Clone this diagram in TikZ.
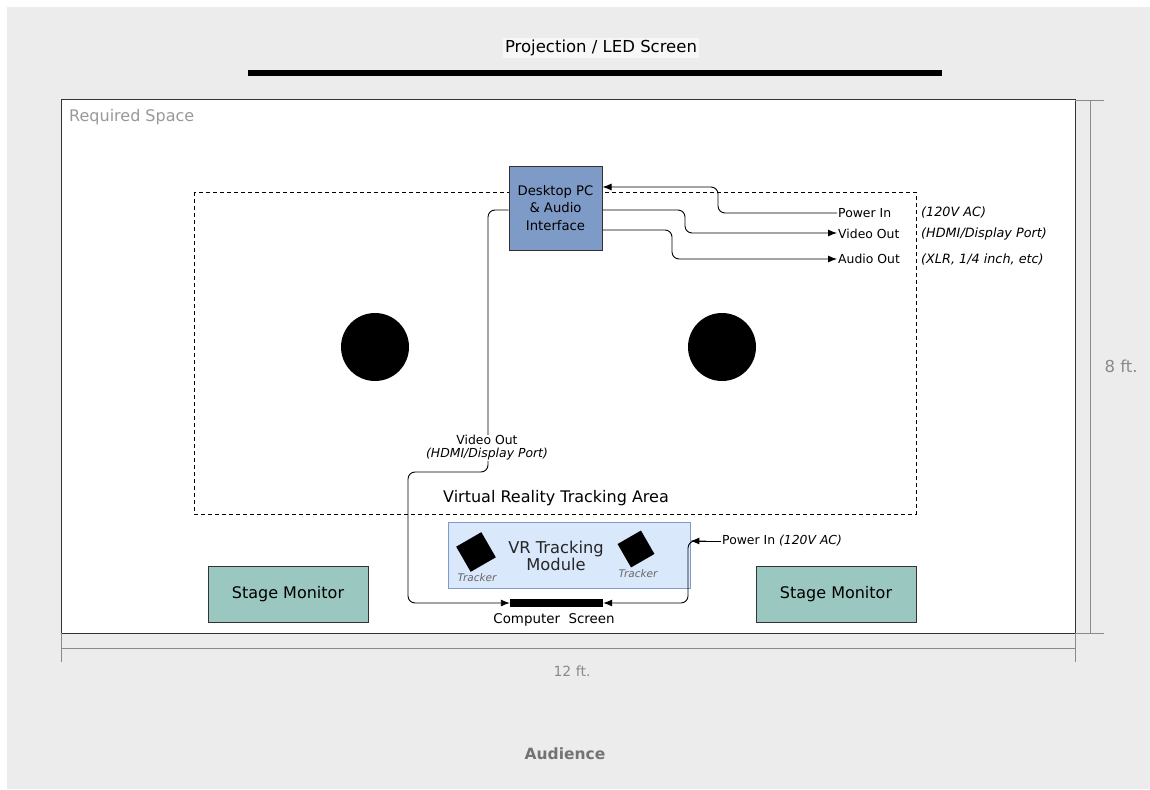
\documentclass[tikz,border=0pt]{standalone}
\usepackage{fontspec}
\setmainfont{DejaVu Sans}
\usetikzlibrary{arrows.meta}
\definecolor{bggray}{HTML}{ECECEC}
\definecolor{pcblue}{HTML}{7E9AC6}
\definecolor{vrblue}{HTML}{DAE8FC}
\definecolor{vrborder}{HTML}{7F9CC8}
\definecolor{monitor}{HTML}{9AC7BF}
\definecolor{dimgray}{HTML}{8A8A8A}
\definecolor{txtgray}{HTML}{999999}
\newcommand{\fs}[1]{\fontsize{#1pt}{\dimexpr #1pt*6/5\relax}\selectfont}
\tikzset{
  wire/.style={draw=black, line width=0.9pt, rounded corners=7pt},
  tip/.style={-{Latex[length=9pt,width=7pt]}},
  box/.style={draw=black!80, line width=1pt, align=center, inner sep=0pt},
  lbl/.style={inner sep=1pt, anchor=west, font=\fs{12.4}},
  note/.style={inner sep=1pt, anchor=west, font=\fs{12.8}\itshape},
  dimline/.style={draw=dimgray, line width=0.9pt},
}
\begin{document}
\begin{tikzpicture}[x=1pt,y=-1pt]
\useasboundingbox (0,0) rectangle (1150,789);
% background
\fill[bggray] (7,7) rectangle (1150,789);
% projection screen
\node[fill=white, fill opacity=0.6, text opacity=1, inner sep=2pt, font=\fs{16.5}] (projlbl) at (601,48) {Projection / LED Screen};
\fill[black] (248,70) rectangle (942,76);
% required space
\node[draw=black!80, line width=1pt, fill=white, minimum width=1014pt, minimum height=533pt, inner sep=0pt] (space) at (568,366.5) {};
\node[anchor=west, text=txtgray, font=\fs{16}, inner sep=0pt] (reqlbl) at (69,117) {Required Space};
% dimensions
\coordinate (vt1) at (1075,100); \coordinate (vt2) at (1104,100);
\coordinate (vb1) at (1075,633); \coordinate (vb2) at (1104,633);
\draw[dimline] (vt1) -- (vt2);
\draw[dimline] (vb1) -- (vb2);
\draw[dimline] (1090,100) -- (1090,633);
\node[text=dimgray, font=\fs{16.5}] (eight) at (1121,366) {8 ft.};
\draw[dimline] (61,633) -- (61,662);
\draw[dimline] (1075,633) -- (1075,662);
\draw[dimline] (61,648) -- (1075,648);
\node[text=dimgray, font=\fs{14}] (twelve) at (572,671) {12 ft.};
\node[text=black!55, font=\fs{15.5}\bfseries] (aud) at (565,754) {Audience};
% tracking area
\draw[dashed, line width=0.9pt, dash pattern=on 4pt off 3pt] (194,192) rectangle (916,514);
\node[font=\fs{16}] (vrarea) at (556,498) {Virtual Reality Tracking Area};
% circles
\fill[black] (375,347) circle (34);
\fill[black] (722,347) circle (34);
% desktop pc
\node[box, fill=pcblue, minimum width=93pt, minimum height=84pt, font=\fs{13.2}] (pc) at (555.5,208) {Desktop PC\\[2pt]\& Audio\\[2pt]Interface};
% labels right
\node[lbl] (pin) at (837,213) {Power In};
\node[lbl] (vout) at (837,234) {Video Out};
\node[lbl] (aout) at (837,259) {Audio Out};
\node[note] (n1) at (920,212) {(120V AC)};
\node[note] (n2) at (920,234) {(HDMI/Display Port)};
\node[note] (n3) at (920,259) {(XLR, 1/4 inch, etc)};
\draw[wire, tip] (pin.west) -- (718,213) -- (718,187) -- (pc.east |- 0,187);
\draw[wire, tip] (pc.east |- 0,210) -- (685,210) -- (685,233) -- (vout.west |- 0,233);
\draw[wire, tip] (pc.east |- 0,230) -- (672,230) -- (672,259) -- (aout.west |- 0,259);
% computer screen
\node[fill=black, minimum width=93pt, minimum height=8pt, inner sep=0pt] (cscreen) at (556.5,603) {};
\node[font=\fs{13.4}] (cslbl) at (554,620) {Computer\ \ Screen};
% video out to screen
\draw[wire, tip] (pc.west |- 0,210) -- (488,210) -- (488,472) -- (408,472) -- (408,603) -- (cscreen.west);
\node[fill=white, inner sep=1pt, align=center, font=\fs{12.4}] (vlbl) at (487,448) {Video Out\\[-2pt]\itshape (HDMI/Display Port)};
% VR module
\node[draw=vrborder, line width=0.8pt, fill=vrblue, minimum width=242pt, minimum height=66pt, inner sep=0pt] (vr) at (569,555) {};
\node[align=center, font=\fs{16.3}, text=black!85] (vrlbl) at (556,556) {VR Tracking\\[-2pt]Module};
\node[fill=black, minimum size=29pt, inner sep=0pt, rotate=30] (tr1) at (476,552) {};
\node[fill=black, minimum size=27pt, inner sep=0pt, rotate=30] (tr2) at (636,549) {};
\node[text=black!60, font=\fs{10.5}\itshape] (tl1) at (477,578) {Tracker};
\node[text=black!60, font=\fs{10.5}\itshape] (tl2) at (638,574) {Tracker};
% power in to VR
\node[lbl] (vpin) at (721,541) {Power In \textit{(120V AC)}};
\draw[wire, tip] (vpin.west) -- (vr.east |- 0,541);
\draw[wire, tip] (706,541) -- (688,541) -- (688,603) -- (cscreen.east);
% stage monitors
\node[box, fill=monitor, minimum width=160pt, minimum height=56pt, font=\fs{16}] (sm1) at (288,594) {Stage Monitor};
\node[box, fill=monitor, minimum width=160pt, minimum height=56pt, font=\fs{16}] (sm2) at (836,594) {Stage Monitor};
\end{tikzpicture}
\end{document}
